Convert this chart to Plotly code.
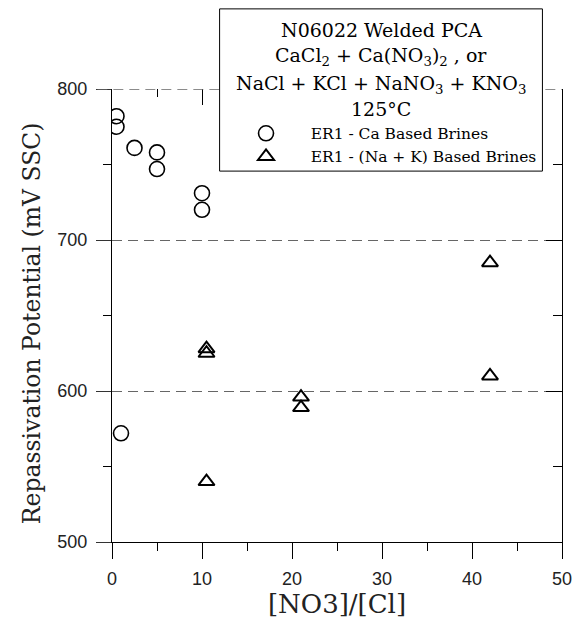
import plotly.graph_objects as go

# Data
ca_x = [0.5, 0.5, 2.5, 5, 5, 10, 10, 1]
ca_y = [782, 775, 761, 758, 747, 731, 720, 572]
nak_x = [10.5, 10.5, 10.5, 21, 21, 42, 42]
nak_y = [628, 625, 540, 596, 589, 685, 610]

ca_name = "ER1 - Ca Based Brines"
nak_name = "ER1 - (Na + K) Based Brines"
header_lines = [
    "N06022 Welded PCA",
    "CaCl<sub>2</sub> + Ca(NO<sub>3</sub>)<sub>2</sub> , or",
    "NaCl + KCl + NaNO<sub>3</sub> + KNO<sub>3</sub>",
    "125°C",
]
x_title = "[NO3]/[Cl]"
y_title = "Repassivation Potential (mV SSC)"

SERIF = "DejaVu Serif"
SANS = "Liberation Sans"
PAD = "\u00a0" * 5

fig = go.Figure()
fig.add_trace(go.Scatter(
    x=ca_x, y=ca_y, mode="markers", name=PAD + ca_name,
    marker=dict(symbol="circle-open", size=15, color="black", line=dict(width=1.6, color="black")),
))
fig.add_trace(go.Scatter(
    x=nak_x, y=nak_y, mode="markers", name=PAD + nak_name,
    marker=dict(symbol="triangle-up-open", size=14, color="black", line=dict(width=2, color="black")),
))
# invisible trace to activate mirrored axes
fig.add_trace(go.Scatter(x=[None], y=[None], xaxis="x2", yaxis="y2", showlegend=False, hoverinfo="skip"))

W, H = 584, 623
L, R, T, B = 112, 12, 89, 76
pw, ph = W - L - R, H - T - B

def px_to_paper_x(px):
    return (px - L) / pw

def px_to_paper_y(py):
    return (H - B - py) / ph

fig.update_layout(
    width=W, height=H,
    margin=dict(l=L, r=R, t=T, b=B),
    paper_bgcolor="white", plot_bgcolor="white",
    showlegend=True,
    legend=dict(
        x=px_to_paper_x(249), xanchor="left",
        y=px_to_paper_y(117), yanchor="top",
        bgcolor="rgba(0,0,0,0)", borderwidth=0,
        font=dict(family=SERIF, size=15.5, color="black"),
        tracegroupgap=0,
    ),
    xaxis=dict(
        range=[0, 50], dtick=10, tick0=0,
        showline=True, linecolor="black", linewidth=1,
        ticks="outside", ticklen=16, tickcolor="black", tickwidth=1,
        minor=dict(dtick=5, ticks="outside", ticklen=8, tickcolor="black", showgrid=False),
        showgrid=False, zeroline=False,
        tickfont=dict(family=SANS, size=18, color="#222"),
        ticklabelstandoff=4,
        title=dict(text=x_title, font=dict(family=SERIF, size=26, color="#222"), standoff=4),
    ),
    yaxis=dict(
        range=[500, 800], dtick=100, tick0=500,
        showline=True, linecolor="black", linewidth=1,
        ticks="outside", ticklen=15, tickcolor="#333", tickwidth=1,
        minor=dict(dtick=50, ticks="outside", ticklen=8, tickcolor="black", showgrid=False),
        showgrid=True, gridcolor="#666", gridwidth=1.3, griddash="10px,6px",
        zeroline=False,
        tickfont=dict(family=SANS, size=18, color="#222"),
        ticklabelstandoff=5,
    ),
    xaxis2=dict(
        overlaying="x", side="top", range=[0, 50], dtick=10, tick0=0,
        showline=False, ticks="inside", ticklen=16, tickcolor="black",
        minor=dict(dtick=5, ticks="inside", ticklen=8, tickcolor="black", showgrid=False),
        showticklabels=False, showgrid=False, zeroline=False,
    ),
    yaxis2=dict(
        overlaying="y", side="right", range=[500, 800], dtick=100, tick0=500,
        showline=True, linecolor="black", linewidth=1,
        ticks="inside", ticklen=16, tickcolor="black",
        minor=dict(dtick=50, ticks="inside", ticklen=9, tickcolor="black", showgrid=False),
        showticklabels=False, showgrid=False, zeroline=False,
    ),
)

# y-axis title as rotated annotation
fig.add_annotation(
    text=y_title, xref="paper", yref="paper",
    x=px_to_paper_x(31), y=px_to_paper_y(326),
    xanchor="center", yanchor="middle", textangle=-90, showarrow=False,
    font=dict(family=SERIF, size=23.5, color="#222"),
)

# top gridline (plotly omits grid lines at the range edge)
fig.add_shape(
    type="line", xref="paper", yref="y", layer="above",
    x0=px_to_paper_x(97), x1=1, y0=800, y1=800,
    line=dict(color="#666", width=1.3, dash="10px,6px"),
)
# legend box
fig.add_shape(
    type="rect", xref="paper", yref="paper", layer="above",
    x0=px_to_paper_x(222), x1=px_to_paper_x(552),
    y0=px_to_paper_y(172), y1=px_to_paper_y(8),
    fillcolor="white", line=dict(color="black", width=1),
)
line_y = [29, 56, 84, 109]
for txt, yy in zip(header_lines, line_y):
    fig.add_annotation(
        text=txt, xref="paper", yref="paper",
        x=px_to_paper_x(387), y=px_to_paper_y(yy),
        xanchor="center", yanchor="middle", showarrow=False,
        font=dict(family=SERIF, size=19, color="black"),
    )

fig.write_html("out.html")
